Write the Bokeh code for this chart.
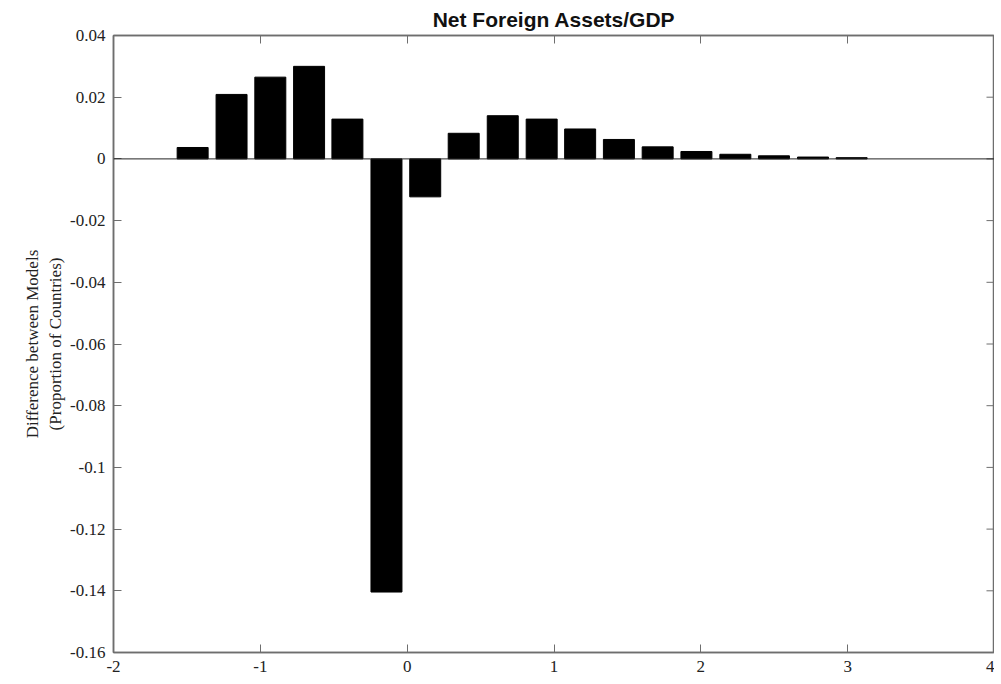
from bokeh.plotting import figure
from bokeh.models import Range1d, FixedTicker, LinearAxis, Span, CustomJSTickFormatter
from bokeh.embed import file_html
from bokeh.resources import INLINE

# Data
bin_centers = [-1.461, -1.196, -0.932, -0.668, -0.407, -0.141, 0.123, 0.385, 0.651,
               0.916, 1.178, 1.442, 1.706, 1.970, 2.235, 2.498, 2.764, 3.027]
differences = [0.0037, 0.0209, 0.0265, 0.0300, 0.0129, -0.1404, -0.0123, 0.0083, 0.0140,
               0.0129, 0.0097, 0.0063, 0.0039, 0.0024, 0.0015, 0.0010, 0.0006, 0.0004]
x_ticks = [-2, -1, 0, 1, 2, 3, 4]
y_ticks = [-0.16, -0.14, -0.12, -0.1, -0.08, -0.06, -0.04, -0.02, 0, 0.02, 0.04]

AXIS_COLOR = "#6e6e6e"
SERIF = "Liberation Serif"
X_MIN, X_MAX = x_ticks[0], x_ticks[-1]

p = figure(width=994, height=674, output_backend="svg", toolbar_location=None,
           x_range=Range1d(X_MIN, X_MAX), y_range=Range1d(y_ticks[0], y_ticks[-1]),
           min_border_left=113, min_border_right=0, min_border_top=5, min_border_bottom=5)

p.title.text = "Net Foreign Assets/GDP"
p.title.align = "center"
p.title.text_font = "Liberation Sans"
p.title.text_font_style = "bold"
p.title.text_font_size = "21px"
p.title.text_color = "#111111"
p.title.offset = 0

p.grid.visible = False
p.outline_line_color = AXIS_COLOR
p.outline_line_width = 1.5
p.background_fill_color = "white"
p.border_fill_color = "white"

fmt = CustomJSTickFormatter(code="return String(parseFloat(tick.toFixed(4)));")
blank = CustomJSTickFormatter(code="return '';")

for ax in p.xaxis:
    ax.ticker = FixedTicker(ticks=x_ticks)
    ax.formatter = fmt
for ax in p.yaxis:
    ax.ticker = FixedTicker(ticks=y_ticks)
    ax.formatter = fmt
    ax.axis_label = "Difference between Models\n(Proportion of Countries)"
    ax.axis_label_text_font = SERIF
    ax.axis_label_text_font_style = "normal"
    ax.axis_label_text_font_size = "17px"
    ax.axis_label_text_color = "#222222"
    ax.axis_label_standoff = 2

for ax in list(p.xaxis) + list(p.yaxis):
    ax.axis_line_color = AXIS_COLOR
    ax.axis_line_width = 1.5
    ax.major_tick_line_color = AXIS_COLOR
    ax.major_tick_in = 8
    ax.major_tick_out = 0
    ax.minor_tick_line_color = None
    ax.major_label_text_font = SERIF
    ax.major_label_text_font_size = "17px"
    ax.major_label_text_color = "#222222"
    ax.major_label_standoff = 8

# top axis (ticks only)
top = LinearAxis(ticker=FixedTicker(ticks=x_ticks), formatter=blank, major_label_standoff=0,
                 major_label_text_font_size="1px")
top.axis_line_color = AXIS_COLOR
top.axis_line_width = 1.5
top.major_tick_line_color = AXIS_COLOR
top.major_tick_in = 8
top.major_tick_out = 0
top.minor_tick_line_color = None
p.add_layout(top, "above")

# right-side inward ticks (8px of an ~880px wide frame)
tick_len = (X_MAX - X_MIN) * 8 / 880
p.segment(x0=[X_MAX] * len(y_ticks), y0=y_ticks,
          x1=[X_MAX - tick_len] * len(y_ticks), y1=y_ticks,
          line_color=AXIS_COLOR, line_width=1)

p.vbar(x=bin_centers, top=differences, bottom=0, width=0.211,
       fill_color="black", line_color="black", line_width=1)

p.add_layout(Span(location=0, dimension="width", line_color="#222222", line_width=1))

open("out.html", "w").write(file_html(p, INLINE))
